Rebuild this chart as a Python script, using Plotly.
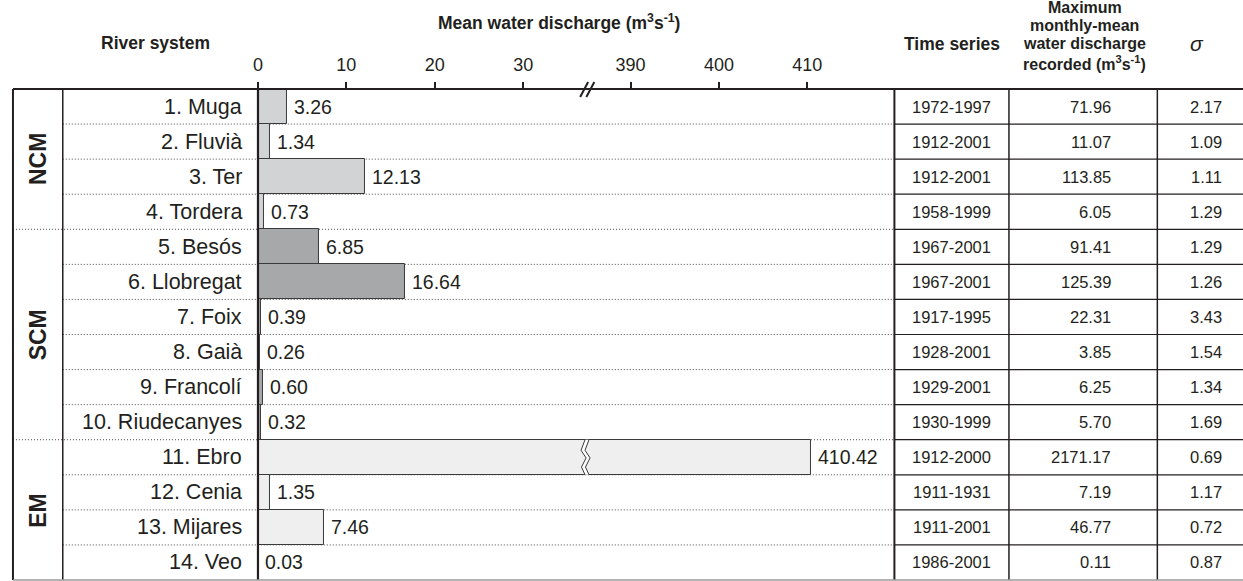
import plotly.graph_objects as go

# ---------------- data ----------------
rivers = ["1. Muga", "2. Fluvià", "3. Ter", "4. Tordera", "5. Besós", "6. Llobregat",
          "7. Foix", "8. Gaià", "9. Francolí", "10. Riudecanyes", "11. Ebro",
          "12. Cenia", "13. Mijares", "14. Veo"]
groups = ["NCM"] * 4 + ["SCM"] * 6 + ["EM"] * 4
group_names = ["NCM", "SCM", "EM"]
mean_discharge = [3.26, 1.34, 12.13, 0.73, 6.85, 16.64, 0.39, 0.26, 0.60, 0.32,
                  410.42, 1.35, 7.46, 0.03]
time_series = ["1972-1997", "1912-2001", "1912-2001", "1958-1999", "1967-2001",
               "1967-2001", "1917-1995", "1928-2001", "1929-2001", "1930-1999",
               "1912-2000", "1911-1931", "1911-2001", "1986-2001"]
max_monthly = [71.96, 11.07, 113.85, 6.05, 91.41, 125.39, 22.31, 3.85, 6.25, 5.70,
               2171.17, 7.19, 46.77, 0.11]
sigma = [2.17, 1.09, 1.11, 1.29, 1.29, 1.26, 3.43, 1.54, 1.34, 1.69, 0.69, 1.17,
         0.72, 0.87]
tick_values = [0, 10, 20, 30, 390, 400, 410]

# axis break (values between BREAK_LOW and BREAK_HIGH are cut out)
BREAK_LOW = 37.0
BREAK_HIGH = 384.85


def to_axis(v):
    return v if v <= BREAK_LOW else v - (BREAK_HIGH - BREAK_LOW)


# ---------------- styling ----------------
W, H = 1243, 581
FONT = "Liberation Sans, Arial, sans-serif"
INK = "#231f20"
GROUP_COLORS = {"NCM": "#d2d3d5", "SCM": "#a7a8aa", "EM": "#eeefee"}
TOP, BOT = 89, 580
X_LEFT, X_GRP, X_AXIS, X_TAB, X_C2, X_C3, X_RIGHT = 8, 58, 254, 893, 1008, 1157, 1243


def px(x):
    return x / W


def py(y):
    return 1 - y / H


n = len(rivers)
idx = list(range(n))

fig = go.Figure()
fig.add_trace(go.Bar(
    y=idx, x=[to_axis(v) for v in mean_discharge], orientation="h", width=1.0,
    marker=dict(color=[GROUP_COLORS[g] for g in groups], line=dict(color="#3a3a3a", width=1)),
    hoverinfo="skip", showlegend=False,
))

shapes = []
# row dividers
for k in range(1, n):
    yk = k - 0.5
    boundary = groups[k] != groups[k - 1]
    shapes.append(dict(type="line", xref="paper", yref="y",
                       x0=px(X_LEFT if boundary else X_GRP), x1=px(X_TAB), y0=yk, y1=yk,
                       line=dict(color="#4a4a4a", width=1, dash="1px,2px"), layer="below"))
    shapes.append(dict(type="line", xref="paper", yref="y", x0=px(X_TAB), x1=px(X_RIGHT),
                       y0=yk, y1=yk, line=dict(color=INK, width=1.2)))
# vertical lines
for xv, w in [(X_LEFT, 2), (X_GRP, 1.5), (X_AXIS, 2.2), (X_TAB, 2), (X_C2, 1.5), (X_C3, 1.5)]:
    shapes.append(dict(type="line", xref="paper", yref="paper", x0=px(xv), x1=px(xv),
                       y0=py(BOT), y1=py(TOP), line=dict(color=INK, width=w)))
# top and bottom borders
shapes.append(dict(type="line", xref="paper", yref="paper", x0=px(X_LEFT), x1=px(X_RIGHT),
                   y0=py(TOP), y1=py(TOP), line=dict(color=INK, width=2.2)))
shapes.append(dict(type="line", xref="paper", yref="paper", x0=px(X_LEFT), x1=px(X_RIGHT),
                   y0=py(BOT), y1=py(BOT), line=dict(color="#9a9a9a", width=1.5)))

# axis break mark "//"
for dx in (-0.55, 0.15):
    shapes.append(dict(type="line", xref="x", yref="paper",
                       x0=BREAK_LOW + dx, x1=BREAK_LOW + dx + 0.9, y0=py(97), y1=py(82),
                       line=dict(color=INK, width=2)))

# zig-zag break through the bar that crosses the break
zig = [(0.0, -0.5), (-0.45, -0.2), (0.12, 0.02), (-0.4, 0.28), (0.0, 0.5)]
gap = 0.45
for i, v in enumerate(mean_discharge):
    if v > BREAK_HIGH:
        left = [(BREAK_LOW + dx, i + dy) for dx, dy in zig]
        right = [(x + gap, y) for x, y in left]
        poly = left + right[::-1]
        path = "M " + " L ".join(f"{x},{y}" for x, y in poly) + " Z"
        shapes.append(dict(type="path", xref="x", yref="y", path=path,
                           fillcolor="white", line=dict(width=0)))
        for edge in (left, right):
            p = "M " + " L ".join(f"{x},{y}" for x, y in edge)
            shapes.append(dict(type="path", xref="x", yref="y", path=p,
                               line=dict(color="#3a3a3a", width=1)))

ann = []
# river names and value labels, table cells
for i in idx:
    ann.append(dict(x=px(240), y=i, xref="paper", yref="y", text=rivers[i],
                    xanchor="right", yanchor="middle", showarrow=False,
                    font=dict(family=FONT, size=21.5, color=INK)))
    ann.append(dict(x=to_axis(mean_discharge[i]), y=i, xref="x", yref="y",
                    text=f"{mean_discharge[i]:.2f}", xanchor="left", yanchor="middle",
                    xshift=5, showarrow=False, font=dict(family=FONT, size=19.5, color=INK)))
    ann.append(dict(x=px((X_TAB + X_C2) / 2), y=i, xref="paper", yref="y",
                    text=time_series[i], xanchor="center", yanchor="middle", showarrow=False,
                    font=dict(family=FONT, size=16.5, color=INK)))
    ann.append(dict(x=px(1112), y=i, xref="paper", yref="y", text=f"{max_monthly[i]:.2f}",
                    xanchor="right", yanchor="middle", showarrow=False,
                    font=dict(family=FONT, size=16.5, color=INK)))
    ann.append(dict(x=px(1224), y=i, xref="paper", yref="y", text=f"{sigma[i]:.2f}",
                    xanchor="right", yanchor="middle", showarrow=False,
                    font=dict(family=FONT, size=16.5, color=INK)))

# group labels
for g in group_names:
    rows = [i for i in idx if groups[i] == g]
    ann.append(dict(x=px(33), y=(rows[0] + rows[-1]) / 2, xref="paper", yref="y",
                    text=f"<b>{g}</b>", textangle=-90, xanchor="center", yanchor="middle",
                    showarrow=False, font=dict(family=FONT, size=23, color=INK)))


# headers
def header(text, x, y, size=17.5):
    ann.append(dict(x=px(x), y=py(y), xref="paper", yref="paper", text=text,
                    xanchor="center", yanchor="middle", showarrow=False,
                    font=dict(family=FONT, size=size, color=INK)))


header("<b>River system</b>", 151, 43)
header("<b>Mean water discharge (m<sup>3</sup>s<sup>-1</sup>)</b>", 556, 22)
header("<b>Time series</b>", 951, 44)
header("<b>Maximum</b>", 1084, 7, 16)
header("<b>monthly-mean</b>", 1084, 26, 16)
header("<b>water discharge</b>", 1084, 44, 16)
header("<b>recorded (m<sup>3</sup>s<sup>-1</sup>)</b>", 1084, 63, 16)
header("<i>σ</i>", 1197, 44, 21)

fig.update_layout(
    width=W, height=H, margin=dict(l=0, r=0, t=0, b=0),
    paper_bgcolor="white", plot_bgcolor="rgba(0,0,0,0)",
    shapes=shapes, annotations=ann, bargap=0,
    xaxis=dict(domain=[px(X_AXIS), px(X_TAB)], range=[0, (X_TAB - X_AXIS) / 8.875],
               side="top", showgrid=False, zeroline=False, showline=False,
               tickvals=[to_axis(t) for t in tick_values], ticktext=[str(t) for t in tick_values],
               ticks="outside", ticklen=6, tickwidth=1.5, tickcolor=INK,
               ticklabelstandoff=4,
               tickfont=dict(family=FONT, size=18, color=INK), fixedrange=True),
    yaxis=dict(domain=[py(BOT), py(TOP)], range=[n - 0.5, -0.5], showgrid=False,
               zeroline=False, showticklabels=False, showline=False, fixedrange=True),
)

fig.write_html(
    "out.html",
    config={"displayModeBar": False},
    post_script="document.body.style.margin='0';document.body.style.padding='0';"
                "document.documentElement.style.overflow='hidden';",
)
